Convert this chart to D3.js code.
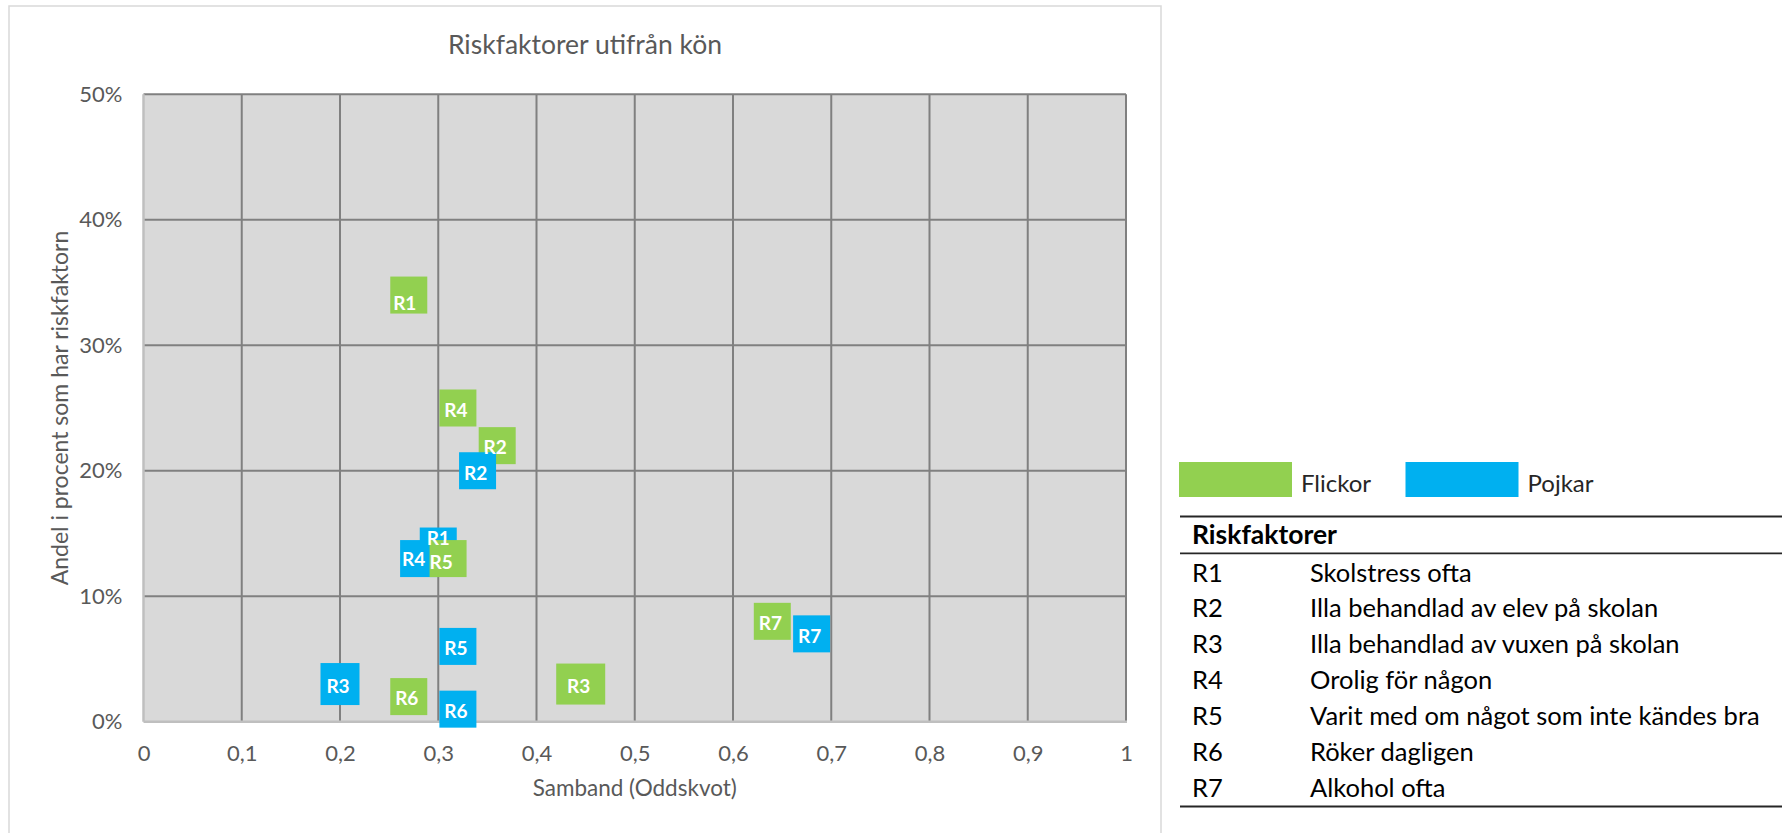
<!DOCTYPE html>
<html>
<head>
<meta charset="utf-8">
<script src="https://cdn.jsdelivr.net/npm/d3@7"></script>
<style>
  html, body { margin: 0; padding: 0; background: #ffffff; }
  svg { display: block; font-family: Lato, "Open Sans", sans-serif; }
</style>
</head>
<body>
<svg id="chart" width="1782" height="833"></svg>
<script>
// Risk factor codes shared by both series and by the key table
const riskCodes = ["R1", "R2", "R3", "R4", "R5", "R6", "R7"];
const riskNames = [
  "Skolstress ofta",
  "Illa behandlad av elev på skolan",
  "Illa behandlad av vuxen på skolan",
  "Orolig för någon",
  "Varit med om något som inte kändes bra",
  "Röker dagligen",
  "Alkohol ofta"
];

// Girls: odds ratio (x) and share with the risk factor in percent (y)
const flickorOdds = [0.27, 0.36, 0.445, 0.32, 0.31, 0.27, 0.64];
const flickorPct  = [34, 22, 3, 25, 13, 2, 8];

// Boys
const pojkarOdds = [0.30, 0.34, 0.20, 0.28, 0.32, 0.32, 0.68];
const pojkarPct  = [14, 20, 3, 13, 6, 1, 7];

const seriesNames = ["Flickor", "Pojkar"];
const xTicks = [0, 0.1, 0.2, 0.3, 0.4, 0.5, 0.6, 0.7, 0.8, 0.9, 1];
const yTicks = [0, 10, 20, 30, 40, 50];

// ---- styling ----
const colors = { Flickor: "#92d050", Pojkar: "#00b0f0" };
const markerDefault = [37, 37];
const markerOverride = { "Flickor-R3": [49, 41], "Pojkar-R3": [39, 42] };
// small label nudges (px) so crowded labels stay readable
const labelNudge = { "Flickor-R1": [-4, 8], "Pojkar-R1": [0, -8], "Flickor-R5": [-7, 4], "Pojkar-R4": [-5, 1] };
const labelDefault = [-2, 2];
const gray = "#595959";

const svg = d3.select("#chart");
svg.append("rect").attr("width", 1782).attr("height", 833).attr("fill", "#fff");

// chart area frame
svg.append("rect")
  .attr("x", 9).attr("y", 6).attr("width", 1152).attr("height", 860)
  .attr("fill", "none").attr("stroke", "#d9d9d9").attr("stroke-width", 1.5);

const plot = { left: 143.5, right: 1126, top: 94.3, bottom: 721.7 };
const x = d3.scaleLinear().domain([0, 1]).range([plot.left, plot.right]);
const y = d3.scaleLinear().domain([0, 50]).range([plot.bottom, plot.top]);

const sv = d3.formatLocale({ decimal: ",", thousands: "\u00a0", grouping: [3], currency: ["", " kr"] });
const fmtX = d => d === 0 || d === 1 ? String(d) : sv.format(".1f")(d);
const fmtY = d => d + "%";

// plot background
svg.append("rect")
  .attr("x", plot.left).attr("y", plot.top)
  .attr("width", plot.right - plot.left).attr("height", plot.bottom - plot.top)
  .attr("fill", "#d9d9d9");

// gridlines
const grid = svg.append("g").attr("stroke", "#808080").attr("stroke-width", 2);
grid.selectAll("line.h").data(yTicks.filter(d => d > 0)).join("line")
  .attr("x1", plot.left).attr("x2", plot.right)
  .attr("y1", d => y(d)).attr("y2", d => y(d));
grid.selectAll("line.v").data(xTicks.filter(d => d > 0)).join("line")
  .attr("y1", plot.top).attr("y2", plot.bottom)
  .attr("x1", d => x(d)).attr("x2", d => x(d));

// axis lines
svg.append("line").attr("x1", plot.left).attr("x2", plot.right + 1)
  .attr("y1", plot.bottom).attr("y2", plot.bottom)
  .attr("stroke", "#bfbfbf").attr("stroke-width", 2.5);
svg.append("line").attr("x1", plot.left).attr("x2", plot.left)
  .attr("y1", plot.top).attr("y2", plot.bottom)
  .attr("stroke", "#bfbfbf").attr("stroke-width", 2.5);

// tick labels via d3 axes
const xAxis = svg.append("g").attr("transform", `translate(0,${plot.bottom})`)
  .call(d3.axisBottom(x).tickValues(xTicks).tickFormat(fmtX).tickSize(0).tickPadding(24));
const yAxis = svg.append("g").attr("transform", `translate(${plot.left},0)`)
  .call(d3.axisLeft(y).tickValues(yTicks).tickFormat(fmtY).tickSize(0).tickPadding(21));
[xAxis, yAxis].forEach(a => {
  a.select(".domain").remove();
  a.selectAll("text").attr("fill", gray).style("font-size", "22px").style("font-family", "Lato");
});

// titles
svg.append("text").attr("x", 585).attr("y", 54).attr("text-anchor", "middle")
  .attr("fill", gray).style("font-size", "26.5px").text("Riskfaktorer utifrån kön");
svg.append("text").attr("x", (plot.left + plot.right) / 2).attr("y", 796).attr("text-anchor", "middle")
  .attr("fill", gray).style("font-size", "22.5px").text("Samband (Oddskvot)");
svg.append("text").attr("transform", `translate(68,${(plot.top + plot.bottom) / 2}) rotate(-90)`)
  .attr("text-anchor", "middle").attr("fill", gray).style("font-size", "23px")
  .text("Andel i procent som har riskfaktorn");

// points, drawn factor by factor (girls then boys)
const points = [];
riskCodes.forEach((code, i) => {
  points.push({ series: "Flickor", code, odds: flickorOdds[i], pct: flickorPct[i] });
  points.push({ series: "Pojkar", code, odds: pojkarOdds[i], pct: pojkarPct[i] });
});

const keyOf = d => d.series + "-" + d.code;

svg.append("g").selectAll("rect").data(points).join("rect")
  .each(function (d) {
    const [w, h] = markerOverride[keyOf(d)] || markerDefault;
    d3.select(this)
      .attr("x", x(d.odds) - w / 2).attr("y", y(d.pct) - h / 2)
      .attr("width", w).attr("height", h);
  })
  .attr("fill", d => colors[d.series]);

// data labels sit above every marker
svg.append("g").selectAll("text").data(points).join("text")
  .each(function (d) {
    const [dx, dy] = labelNudge[keyOf(d)] || labelDefault;
    d3.select(this).attr("x", x(d.odds) + dx).attr("y", y(d.pct) + dy);
  })
  .attr("text-anchor", "middle").attr("dy", "0.36em")
  .attr("fill", "#fff").style("font-weight", "bold").style("font-size", "19px")
  .text(d => d.code);

// legend
const legend = svg.append("g");
seriesNames.forEach((s, i) => {
  const lx = 1179 + i * 226.5;
  legend.append("rect").attr("x", lx).attr("y", 462).attr("width", 113).attr("height", 35)
    .attr("fill", colors[s]);
  legend.append("text").attr("x", lx + 122).attr("y", 491.5)
    .attr("fill", "#262626").style("font-size", "24px").text(s);
});

// key table
const tbl = svg.append("g");
const rule = yy => tbl.append("line").attr("x1", 1180).attr("x2", 1782).attr("y1", yy).attr("y2", yy)
  .attr("stroke", "#262626").attr("stroke-width", 1.8);
rule(516.5); rule(553.3); rule(806.5);
tbl.append("text").attr("x", 1192).attr("y", 544).attr("fill", "#000")
  .style("font-size", "26.5px").style("font-weight", "bold").text("Riskfaktorer");
riskCodes.forEach((c, i) => {
  const by = 581.6 + i * 35.85;
  tbl.append("text").attr("x", 1192).attr("y", by).attr("fill", "#000")
    .style("font-size", "25.5px").text(c);
  tbl.append("text").attr("x", 1310).attr("y", by).attr("fill", "#000")
    .style("font-size", "25.5px").text(riskNames[i]);
});
</script>
</body>
</html>
